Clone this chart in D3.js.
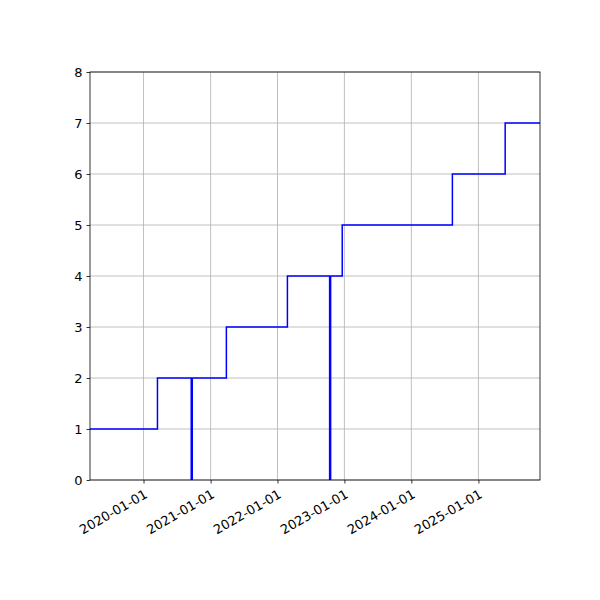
<!DOCTYPE html>
<html>
<head>
<meta charset="utf-8">
<script src="https://cdn.jsdelivr.net/npm/d3@7"></script>
<style>
  body { margin: 0; background: #fff; }
  text { font-family: "DejaVu Sans", sans-serif; }
</style>
</head>
<body>
<div id="chart"></div>
<script>
// svg dimensions
let svgWidth = 600, svgHeight = 600;
let margin = {top: 72, right: 60, bottom: 120, left: 90};
let chartWidth = svgWidth - margin.left - margin.right;
let chartHeight = svgHeight - margin.top - margin.bottom;

// step series (value holds until next date)
let stepDates = ['2019-03-15', '2020-03-17', '2021-03-28', '2022-02-24', '2022-12-20', '2024-08-12', '2025-05-27', '2025-12-03'];
let stepValues = [1, 2, 3, 4, 5, 6, 7, 7];

// vertical marker lines
let vlineDates = ['2020-09-20', '2022-10-15'];
let vlineTops = [2, 4];

let tickDates = ['2020-01-01', '2021-01-01', '2022-01-01', '2023-01-01', '2024-01-01', '2025-01-01'];
let yTicks = [0, 1, 2, 3, 4, 5, 6, 7, 8];

let parseTime = d3.timeParse('%Y-%m-%d');

let svg = d3.select('#chart').append('svg')
  .attr('width', svgWidth).attr('height', svgHeight);
let chartGroup = svg.append('g')
  .attr('transform', `translate(${margin.left}, ${margin.top})`);

let xTimeScale = d3.scaleTime()
  .domain([parseTime('2019-03-15'), parseTime('2025-12-03')])
  .range([0, chartWidth]);
let yLinearScale = d3.scaleLinear().domain([0, 8]).range([chartHeight, 0]);

// grid
chartGroup.selectAll('.vgrid').data(tickDates).enter().append('line')
  .attr('x1', d => xTimeScale(parseTime(d))).attr('x2', d => xTimeScale(parseTime(d)))
  .attr('y1', 0).attr('y2', chartHeight)
  .attr('stroke', '#b0b0b0').attr('stroke-width', 0.8);
chartGroup.selectAll('.hgrid').data(yTicks).enter().append('line')
  .attr('x1', 0).attr('x2', chartWidth)
  .attr('y1', d => yLinearScale(d)).attr('y2', d => yLinearScale(d))
  .attr('stroke', '#b0b0b0').attr('stroke-width', 0.8);

// step line
let stepData = stepDates.map((d, i) => ({date: parseTime(d), value: stepValues[i]}));
let drawLine = d3.line()
  .x(d => xTimeScale(d.date))
  .y(d => yLinearScale(d.value))
  .curve(d3.curveStepAfter);
chartGroup.append('path')
  .attr('d', drawLine(stepData))
  .attr('fill', 'none').attr('stroke', 'blue').attr('stroke-width', 1.5);

// vertical lines
chartGroup.selectAll('.vl').data(vlineDates).enter().append('line')
  .attr('x1', d => xTimeScale(parseTime(d))).attr('x2', d => xTimeScale(parseTime(d)))
  .attr('y1', yLinearScale(0)).attr('y2', (d, i) => yLinearScale(vlineTops[i]))
  .attr('stroke', 'blue').attr('stroke-width', 2.5);

// axes
let bottomAxis = d3.axisBottom(xTimeScale)
  .tickValues(tickDates.map(parseTime))
  .tickFormat(d3.timeFormat('%Y-%m-%d'))
  .tickSize(3.5).tickPadding(3);
let leftAxis = d3.axisLeft(yLinearScale).tickValues(yTicks).tickSize(3.5).tickPadding(4);

let xAxisGroup = chartGroup.append('g')
  .attr('transform', `translate(0, ${chartHeight})`)
  .call(bottomAxis);
xAxisGroup.selectAll('text')
  .attr('font-size', 13).attr('fill', '#000')
  .style('text-anchor', 'end')
  .attr('x', 0).attr('y', 0)
  .attr('dx', 0).attr('dy', '0.35em')
  .attr('transform', 'translate(2, 13) rotate(-30)');

let yAxisGroup = chartGroup.append('g').call(leftAxis);
yAxisGroup.selectAll('text').attr('font-size', 13).attr('fill', '#000');

[xAxisGroup, yAxisGroup].forEach(g => {
  g.select('.domain').remove();
  g.selectAll('line').attr('stroke', '#000').attr('stroke-width', 0.8);
});

// frame
chartGroup.append('rect')
  .attr('width', chartWidth).attr('height', chartHeight)
  .attr('fill', 'none').attr('stroke', '#000').attr('stroke-width', 0.8);
</script>
</body>
</html>
